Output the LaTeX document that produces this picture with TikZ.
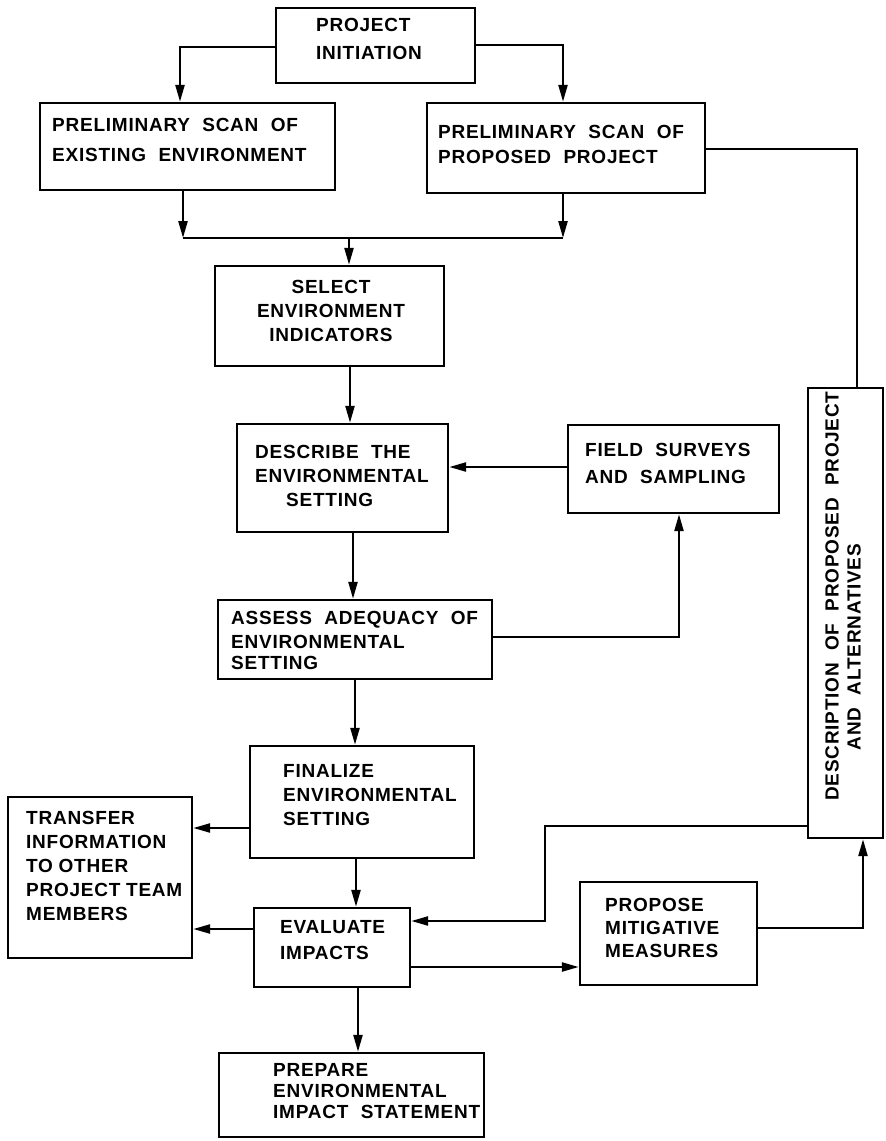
\documentclass[tikz,border=0pt]{standalone}
\usepackage{fontspec}
\newfontfamily\lettfam{Liberation Sans}[LetterSpace=4]
\newcommand\lettfont{\lettfam\bfseries\fontsize{19}{24}\selectfont\spaceskip=0.65em\relax}
\newcommand\tightlettfont{\lettfam\bfseries\fontsize{19}{24}\selectfont\spaceskip=0.3em\relax}
\usetikzlibrary{arrows.meta}
\begin{document}
\begin{tikzpicture}[x=1pt,y=-1pt,
  box/.style={draw, line width=2.4pt, inner sep=0pt},
  txt/.style={font=\lettfont, align=left, anchor=west, inner sep=0pt},
  conn/.style={line width=2.4pt},
  arr/.style={conn, -{Triangle[length=17pt,width=9pt]}}]
\useasboundingbox[fill=white] (0,0) rectangle (886,1141);

% boxes
\node[box, minimum width=199pt, minimum height=75pt]  (init)     at (375.5,45.5) {};
\node[box, minimum width=295pt, minimum height=87pt]  (exist)    at (187.5,146.5) {};
\node[box, minimum width=278pt, minimum height=90pt]  (prop)     at (566,148) {};
\node[box, minimum width=229pt, minimum height=100pt] (select)   at (329.5,316) {};
\node[box, minimum width=211pt, minimum height=108pt] (describe) at (342.5,478) {};
\node[box, minimum width=211pt, minimum height=88pt]  (field)    at (673.5,469) {};
\node[box, minimum width=274pt, minimum height=79pt]  (assess)   at (355,639.5) {};
\node[box, minimum width=224pt, minimum height=112pt] (finalize) at (362,802) {};
\node[box, minimum width=184pt, minimum height=161pt] (transfer) at (100,877.5) {};
\node[box, minimum width=156pt, minimum height=79pt]  (evaluate) at (332,947.5) {};
\node[box, minimum width=177pt, minimum height=103pt] (propose)  at (668.5,933.5) {};
\node[box, minimum width=265pt, minimum height=84pt]  (prepare)  at (351.5,1095) {};
\node[box, minimum width=75pt,  minimum height=450pt] (desc)     at (845.5,613) {};

% texts
\node[txt] (init-t) at (316,39) {PROJECT\\[4pt]INITIATION};
\node[txt] (exist-t) at (52,140) {PRELIMINARY SCAN OF\\[6pt]EXISTING ENVIRONMENT};
\node[txt] (prop-t) at (438,144.5) {PRELIMINARY SCAN OF\\[1pt]PROPOSED PROJECT};
\node[txt, anchor=center, align=center] (select-t) at (331,311) {SELECT\\ENVIRONMENT\\INDICATORS};
\node[txt] (describe-t) at (255,475.5) {DESCRIBE THE\\ENVIRONMENTAL\\\hspace*{31pt}SETTING};
\node[txt] (field-t) at (585,463.5) {FIELD SURVEYS\\[3pt]AND SAMPLING};
\node[txt] (assess-t) at (231,640.5) {ASSESS ADEQUACY OF\\ENVIRONMENTAL\\[-3pt]SETTING};
\node[txt] (finalize-t) at (283,795) {FINALIZE\\ENVIRONMENTAL\\SETTING};
\node[txt, font=\tightlettfont] (transfer-t) at (26,865.5) {TRANSFER\\INFORMATION\\TO OTHER\\PROJECT TEAM\\MEMBERS};
\node[txt] (evaluate-t) at (280,940) {EVALUATE\\[2pt]IMPACTS};
\node[txt] (propose-t) at (605,927.5) {PROPOSE\\[-1pt]MITIGATIVE\\[-1pt]MEASURES};
\node[txt] (prepare-t) at (273,1091.5) {PREPARE\\[-3pt]ENVIRONMENTAL\\[-3pt]IMPACT STATEMENT};
\node[txt, rotate=90, anchor=center, align=center] (desc-t1) at (832,596) {DESCRIPTION OF PROPOSED PROJECT};
\node[txt, rotate=90, anchor=center, align=center] (desc-t2) at (854,647) {AND ALTERNATIVES};

% helper coordinates
\coordinate (c1) at (180,47);
\coordinate (c2) at (563,45);
\coordinate (jl) at (183,238);
\coordinate (jr) at (563,238);
\coordinate (jm) at (349,238);
\coordinate (s1) at (350,0);
\coordinate (s2) at (353,0);
\coordinate (s3) at (355,0);
\coordinate (s4) at (356,0);
\coordinate (s5) at (358,0);
\coordinate (fd) at (0,467);
\coordinate (af) at (679,637);
\coordinate (ft) at (0,828);
\coordinate (et) at (0,929);
\coordinate (ep) at (0,967);
\coordinate (pd) at (863,928);
\coordinate (de1) at (545,826);
\coordinate (de2) at (545,921);
\coordinate (pq) at (857,149);

% connectors
\draw[arr] (init.west |- c1) -| (exist.north -| c1);
\draw[arr] (init.east |- c2) -| (prop.north -| c2);
\draw[arr] (exist.south -| jl) -- (jl);
\draw[arr] (prop.south -| jr) -- (jr);
\draw[conn] (jl) -- (jr);
\draw[arr] (jm) -- (select.north -| jm);
\draw[arr] (select.south -| s1) -- (describe.north -| s1);
\draw[arr] (field.west |- fd) -- (describe.east |- fd);
\draw[arr] (describe.south -| s2) -- (assess.north -| s2);
\draw[arr] (assess.east |- af) -| (field.south -| af);
\draw[arr] (assess.south -| s3) -- (finalize.north -| s3);
\draw[arr] (finalize.west |- ft) -- (transfer.east |- ft);
\draw[arr] (finalize.south -| s4) -- (evaluate.north -| s4);
\draw[arr] (evaluate.west |- et) -- (transfer.east |- et);
\draw[arr] (evaluate.east |- ep) -- (propose.west |- ep);
\draw[arr] (evaluate.south -| s5) -- (prepare.north -| s5);
\draw[arr] (propose.east |- pd) -| (desc.south -| pd);
\draw[arr] (desc.west |- de1) -| (de2) -- (evaluate.east |- de2);
\draw[conn] (prop.east |- pq) -| (desc.north -| pq);
\end{tikzpicture}
\end{document}
